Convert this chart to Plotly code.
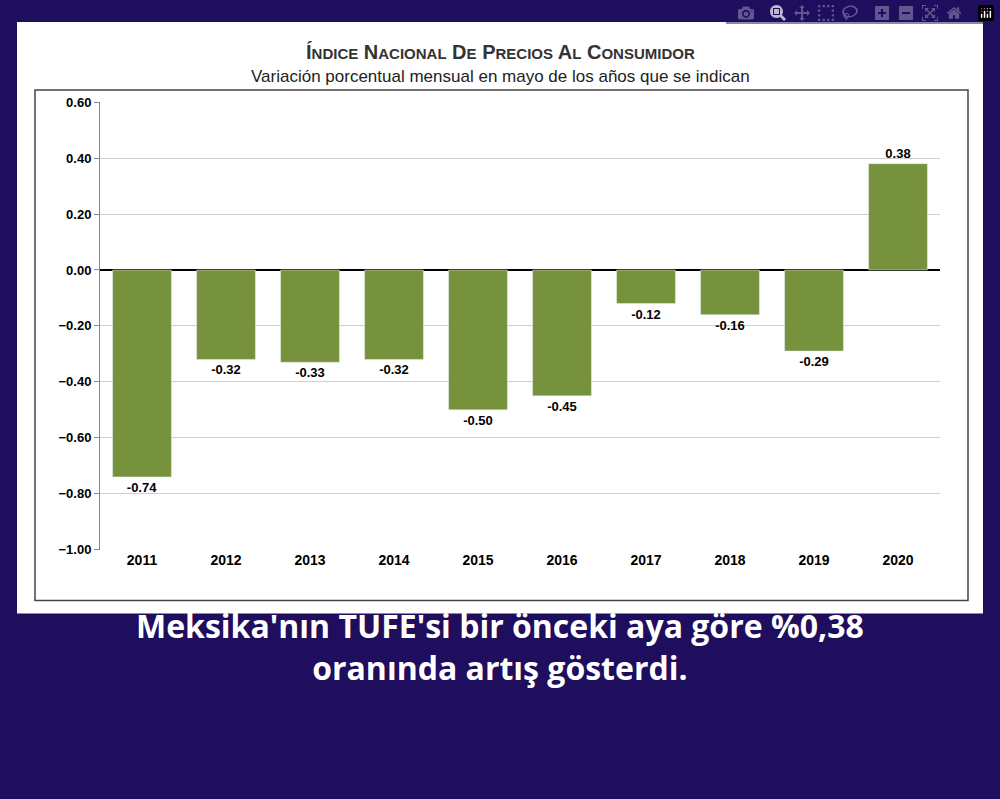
import plotly.graph_objects as go

years = ["2011", "2012", "2013", "2014", "2015", "2016", "2017", "2018", "2019", "2020"]
values = [-0.74, -0.32, -0.33, -0.32, -0.50, -0.45, -0.12, -0.16, -0.29, 0.38]
labels = [f"{v:.2f}" for v in values]

fig = go.Figure(go.Bar(
    x=years, y=values, text=labels, textposition="outside",
    texttemplate="<b>%{text}</b>",
    marker_color="#76923c", width=0.7,
    textfont=dict(family="Liberation Sans", size=13, color="black"),
    cliponaxis=False,
))


def sc(word):
    # fake small caps: first letter large, rest smaller
    return word[0] + "<span style='font-size:15px'>" + word[1:] + "</span>"


title = " ".join(sc(w) for w in "ÍNDICE NACIONAL DE PRECIOS AL CONSUMIDOR".split())

fig.update_layout(
    width=1000, height=799,
    margin=dict(l=0, r=0, t=0, b=0),
    paper_bgcolor="#1f0d5e", plot_bgcolor="white",
    showlegend=False,
    bargap=0.3,
    shapes=[
        dict(type="rect", xref="paper", yref="paper", x0=0.017, x1=0.983, y0=0.2265, y1=0.981,
             fillcolor="white", line_width=0, layer="below"),
        dict(type="rect", xref="paper", yref="paper", x0=0.035, x1=0.968, y0=0.243, y1=0.894,
             line=dict(color="#444", width=1.5), layer="below"),
    ],
    annotations=[
        dict(text="<b>" + title + "</b>", x=0.5, y=1 - 33 / 799, xref="paper", yref="paper",
             showarrow=False, font=dict(family="Liberation Sans", size=20, color="#333")),
        dict(text="Variación porcentual mensual en mayo de los años que se indican",
             x=0.5, y=1 - 59 / 799, xref="paper", yref="paper", showarrow=False,
             font=dict(family="Liberation Sans", size=17, color="#222")),
        dict(text="<b>Meksika'nın TÜFE'si bir önceki aya göre %0,38<br>oranında artış gösterdi.</b>",
             x=0.5, y=1 - 697 / 799, xref="paper", yref="paper", showarrow=False,
             font=dict(family="Open Sans", size=32, color="white"), align="center"),
    ],
    xaxis=dict(domain=[0.1, 0.94], tickfont=dict(family="Liberation Sans", size=14, color="black"),
               showline=False, showgrid=False, tickprefix="<b>", ticksuffix="</b>"),
    yaxis=dict(domain=[1 - 553 / 799, 1 - 97 / 799], range=[-1.0, 0.6], dtick=0.2,
               tickformat=".2f", showgrid=True, gridcolor="#cfcfcf",
               zeroline=True, zerolinecolor="black", zerolinewidth=1.5,
               showline=True, linecolor="#888", ticks="outside", ticklen=5, tickcolor="#888",
               tickfont=dict(family="Liberation Sans", size=13, color="black"),
               tickprefix="<b>", ticksuffix="</b>"),
)

fig.write_html("out.html", post_script="document.body.style.margin='0';")
